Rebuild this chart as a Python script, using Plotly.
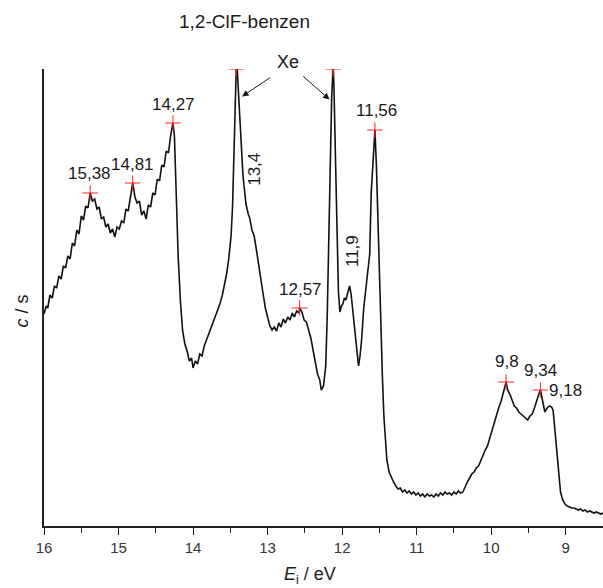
import plotly.graph_objects as go

# Spectrum: ionisation energy (eV) and count rate (arbitrary units)
energy = [16.00, 15.97, 15.95, 15.92, 15.89, 15.86, 15.83, 15.80, 15.77, 15.74, 15.71, 15.68, 15.65, 15.62,
          15.59, 15.56, 15.53, 15.50, 15.47, 15.44, 15.41, 15.38, 15.35, 15.32, 15.29, 15.26, 15.23, 15.20,
          15.17, 15.14, 15.11, 15.08, 15.05, 15.02, 14.99, 14.96, 14.93, 14.90, 14.87, 14.84, 14.81, 14.78,
          14.75, 14.72, 14.69, 14.66, 14.63, 14.60, 14.57, 14.54, 14.51, 14.48, 14.45, 14.42, 14.39, 14.36,
          14.33, 14.30, 14.27, 14.25, 14.22, 14.20, 14.17, 14.14, 14.11, 14.08, 14.05, 14.02, 14.00, 13.97,
          13.94, 13.91, 13.88, 13.85, 13.82, 13.79, 13.76, 13.73, 13.70, 13.67, 13.64, 13.61, 13.58, 13.55,
          13.52, 13.49, 13.47, 13.45, 13.43, 13.42, 13.41, 13.39, 13.37, 13.35, 13.33, 13.31, 13.29, 13.26,
          13.24, 13.21, 13.18, 13.15, 13.12, 13.09, 13.06, 13.03, 13.00, 12.97, 12.94, 12.91, 12.88, 12.85,
          12.82, 12.79, 12.76, 12.73, 12.70, 12.67, 12.64, 12.61, 12.58, 12.57, 12.54, 12.51, 12.48, 12.45,
          12.42, 12.39, 12.36, 12.33, 12.30, 12.28, 12.25, 12.22, 12.20, 12.18, 12.16, 12.14, 12.12, 12.11,
          12.09, 12.07, 12.05, 12.03, 12.01, 11.99, 11.97, 11.95, 11.92, 11.90, 11.88, 11.86, 11.84, 11.81,
          11.78, 11.76, 11.74, 11.71, 11.68, 11.65, 11.63, 11.61, 11.58, 11.56, 11.54, 11.52, 11.50, 11.48,
          11.46, 11.44, 11.42, 11.40, 11.37, 11.34, 11.31, 11.28, 11.25, 11.22, 11.19, 11.16, 11.13, 11.10,
          11.07, 11.04, 11.01, 10.98, 10.95, 10.92, 10.89, 10.86, 10.83, 10.80, 10.77, 10.74, 10.71, 10.68,
          10.65, 10.62, 10.59, 10.56, 10.53, 10.50, 10.47, 10.44, 10.41, 10.38, 10.35, 10.32, 10.29, 10.26,
          10.23, 10.20, 10.17, 10.14, 10.11, 10.08, 10.05, 10.02, 9.99, 9.96, 9.93, 9.90, 9.87, 9.84,
          9.81, 9.80, 9.78, 9.75, 9.72, 9.69, 9.66, 9.63, 9.60, 9.57, 9.54, 9.51, 9.48, 9.45,
          9.42, 9.39, 9.36, 9.34, 9.32, 9.30, 9.28, 9.25, 9.22, 9.19, 9.17, 9.15, 9.13, 9.11,
          9.09, 9.07, 9.04, 9.01, 8.98, 8.95, 8.92, 8.89, 8.86, 8.83, 8.80, 8.77, 8.74, 8.71,
          8.68, 8.65, 8.62, 8.59, 8.56, 8.53, 8.50]
counts = [212, 220, 218, 231, 228, 240, 238, 250, 247, 260, 258, 270, 267, 283,
          280, 296, 292, 310, 306, 320, 318, 333, 325, 327, 317, 319, 307, 309,
          299, 302, 293, 297, 289, 299, 297, 305, 303, 317, 315, 331, 343, 329,
          323, 325, 311, 315, 307, 321, 319, 333, 331, 347, 345, 361, 359, 375,
          373, 391, 403, 390, 310, 270, 225, 195, 182, 175, 165, 168, 158, 165,
          162, 172, 170, 180, 186, 192, 196, 204, 208, 216, 222, 230, 240, 252,
          268, 290, 320, 380, 440, 460, 460, 430, 395, 370, 350, 336, 322, 312,
          308, 296, 290, 276, 260, 245, 232, 218, 208, 200, 196, 199, 195, 203,
          199, 207, 203, 209, 206, 213, 209, 215, 213, 218, 214, 206, 204, 196,
          188, 176, 162, 152, 146, 136, 140, 160, 210, 290, 360, 430, 460, 440,
          370, 300, 235, 214, 220, 222, 228, 226, 234, 240, 232, 216, 200, 182,
          160, 170, 185, 218, 238, 255, 272, 333, 375, 396, 360, 300, 250, 200,
          150, 110, 82, 66, 54, 48, 44, 40, 37, 38, 34, 36, 33, 35,
          32, 34, 31, 33, 30, 32, 29, 32, 30, 31, 29, 32, 30, 33,
          31, 34, 32, 33, 31, 34, 32, 35, 33, 34, 40, 44, 48, 52,
          54, 58, 60, 66, 70, 76, 80, 88, 96, 104, 110, 118, 124, 132,
          142, 144, 136, 132, 126, 120, 118, 114, 112, 110, 108, 106, 110, 112,
          118, 126, 132, 136, 128, 118, 114, 118, 120, 119, 116, 100, 84, 62,
          44, 34, 26, 22, 20, 19, 18, 18, 17, 16, 17, 15, 16, 14,
          15, 14, 13, 14, 13, 12, 13]

# Marked peaks (red crosses)
peak_energy = [15.38, 14.81, 14.27, 13.42, 12.57, 12.12, 11.56, 9.80, 9.34]
peak_counts = [333, 343, 403, 457, 218, 457, 396, 144, 136]

# Peak labels: text, energy, count level of the label centre, rotation
label_text = ["15,38", "14,81", "14,27", "13,4", "12,57", "11,9", "11,56", "9,8", "9,34", "9,18"]
label_energy = [15.383, 14.806, 14.269, 13.185, 12.565, 11.867, 11.545, 9.788, 9.345, 9.00]
label_counts = [353, 362, 422, 357, 237, 275, 416, 165, 156, 136]
label_angle = [0, 0, 0, -90, 0, -90, 0, 0, 0, 0]

x_ticks = [16, 15, 14, 13, 12, 11, 10, 9]

fig = go.Figure()
fig.add_trace(go.Scatter(x=energy, y=counts, mode="lines",
                         line=dict(color="#111111", width=1.6), showlegend=False))
fig.add_trace(go.Scatter(x=peak_energy, y=peak_counts, mode="markers",
                         marker=dict(symbol="cross-thin", size=11,
                                     line=dict(color="#ff2020", width=1)),
                         showlegend=False))

font = "Liberation Sans, Arial, sans-serif"
annotations = []
for t, e, c, a in zip(label_text, label_energy, label_counts, label_angle):
    annotations.append(dict(x=e, y=c, xref="x", yref="y", text=t, showarrow=False,
                            textangle=a, font=dict(family=font, size=17, color="#1a1a1a"),
                            xanchor="center", yanchor="middle"))

# Xe label and arrows
annotations.append(dict(x=0.4365, y=1.015, xref="paper", yref="paper", text="Xe", showarrow=False,
                        font=dict(family=font, size=18, color="#1a1a1a"),
                        xanchor="center", yanchor="middle"))
annotations.append(dict(x=13.343, y=429.5, xref="x", yref="y", text="", showarrow=True,
                        ax=29.7, ay=-20, arrowhead=2, arrowsize=1.3, arrowwidth=1,
                        arrowcolor="#1a1a1a", standoff=0))
annotations.append(dict(x=12.169, y=426.5, xref="x", yref="y", text="", showarrow=True,
                        ax=-27.8, ay=-24.5, arrowhead=2, arrowsize=1.3, arrowwidth=1,
                        arrowcolor="#1a1a1a", standoff=0))

# Title and axis titles
annotations.append(dict(x=0.358, y=1.103, xref="paper", yref="paper", text="1,2-ClF-benzen",
                        showarrow=False, font=dict(family=font, size=19, color="#1a1a1a"),
                        xanchor="center", yanchor="middle"))
annotations.append(dict(x=-0.039, y=0.47, xref="paper", yref="paper", text="<i>c</i> / s",
                        showarrow=False, textangle=-90,
                        font=dict(family=font, size=18, color="#1a1a1a"),
                        xanchor="center", yanchor="middle"))
annotations.append(dict(x=0.476, y=-0.108, xref="paper", yref="paper",
                        text="<i>E</i><sub>i</sub> / eV", showarrow=False,
                        font=dict(family=font, size=18, color="#1a1a1a"),
                        xanchor="center", yanchor="middle"))

fig.update_layout(
    width=603, height=588,
    margin=dict(l=44, r=0, t=69, b=62),
    paper_bgcolor="white", plot_bgcolor="white",
    annotations=annotations,
    xaxis=dict(range=[16, 8.5], showgrid=False, zeroline=False,
               showline=True, linecolor="#222222", linewidth=1.6,
               ticks="outside", ticklen=7, tickwidth=1.4, tickcolor="#222222",
               tickvals=x_ticks, ticktext=[str(v) for v in x_ticks],
               tickfont=dict(family=font, size=15, color="#333333"),
               minor=dict(dtick=0.5, ticks="outside", ticklen=5, tickwidth=1.4,
                          tickcolor="#222222", showgrid=False)),
    yaxis=dict(range=[0, 457], showgrid=False, zeroline=False,
               showline=True, linecolor="#222222", linewidth=1.6,
               ticks="", showticklabels=False),
)

fig.write_html("out.html")
